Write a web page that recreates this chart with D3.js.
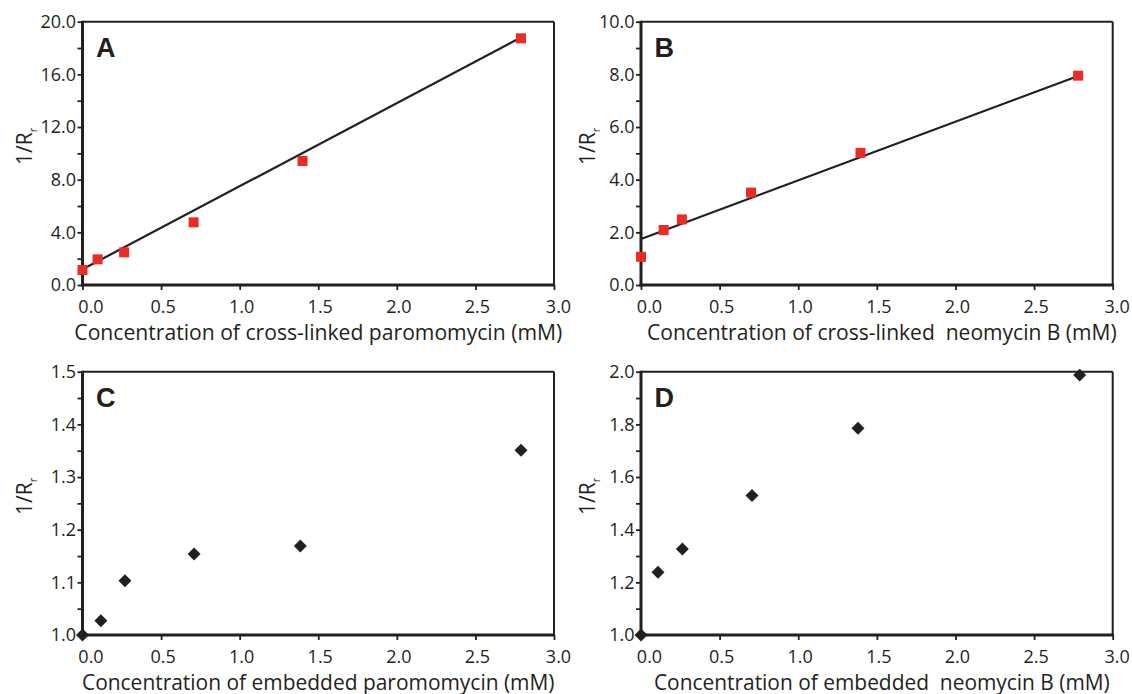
<!DOCTYPE html>
<html>
<head>
<meta charset="utf-8">
<script src="https://cdn.jsdelivr.net/npm/d3@7"></script>
<style>
  html, body { margin: 0; padding: 0; background: #fff; }
  svg { display: block; }
</style>
</head>
<body>
<svg id="chart" width="1132" height="694"></svg>
<script>
// ---------- data ----------
const xTicks = [0, 0.5, 1.0, 1.5, 2.0, 2.5, 3.0];

const xA = [0, 0.096, 0.265, 0.707, 1.40, 2.79];
const yA = [1.14, 1.95, 2.48, 4.76, 9.42, 18.74];
const fitAx = [0, 2.78];
const fitAy = [1.19, 18.74];
const yTicksA = [0, 4, 8, 12, 16, 20];
const yMinorA = [2, 6, 10, 14, 18];

const xB = [0, 0.144, 0.26, 0.70, 1.396, 2.78];
const yB = [1.07, 2.09, 2.49, 3.51, 5.02, 7.95];
const fitBx = [0, 2.78];
const fitBy = [1.75, 7.94];
const yTicksB = [0, 2, 4, 6, 8, 10];
const yMinorB = [1, 3, 5, 7, 9];

const xC = [0, 0.117, 0.27, 0.71, 1.386, 2.79];
const yC = [1.0, 1.027, 1.103, 1.154, 1.169, 1.351];
const yTicksC = [1.0, 1.1, 1.2, 1.3, 1.4, 1.5];
const yMinorC = [1.05, 1.15, 1.25, 1.35, 1.45];

const xD = [0, 0.108, 0.263, 0.706, 1.38, 2.79];
const yD = [1.0, 1.238, 1.327, 1.53, 1.785, 1.987];
const yTicksD = [1.0, 1.2, 1.4, 1.6, 1.8, 2.0];
const yMinorD = [1.1, 1.3, 1.5, 1.7, 1.9];

const titles = [
  "Concentration of cross-linked paromomycin (mM)",
  "Concentration of cross-linked  neomycin B (mM)",
  "Concentration of embedded paromomycin (mM)",
  "Concentration of embedded  neomycin B (mM)"
];
const letters = ["A", "B", "C", "D"];

// ---------- layout ----------
const INK = "#231f20";
const RED = "#ec2a26";
const SANS = '"Open Sans", "Noto Sans", sans-serif';
const panels = [
  {letter: letters[0], title: titles[0], xs: xA, ys: yA, fx: fitAx, fy: fitAy, yt: yTicksA, ym: yMinorA, marker: "square",
   left: 82.5, right: 554, top: 21.7, bottom: 285, ylabX: 32, titleW: 488},
  {letter: letters[1], title: titles[1], xs: xB, ys: yB, fx: fitBx, fy: fitBy, yt: yTicksB, ym: yMinorB, marker: "square",
   left: 641, right: 1112.7, top: 21.7, bottom: 285, ylabX: 595, titleW: 470},
  {letter: letters[2], title: titles[2], xs: xC, ys: yC, fx: null, fy: null, yt: yTicksC, ym: yMinorC, marker: "diamond",
   left: 82.5, right: 554, top: 371.7, bottom: 635, ylabX: 32, titleW: 473},
  {letter: letters[3], title: titles[3], xs: xD, ys: yD, fx: null, fy: null, yt: yTicksD, ym: yMinorD, marker: "diamond",
   left: 641, right: 1112.7, top: 371.7, bottom: 635, ylabX: 595, titleW: 456}
];

const svg = d3.select("#chart");
const fmt = d3.format(".1f");

panels.forEach(p => {
  const x = d3.scaleLinear().domain([0, 3]).range([p.left, p.right]);
  const y = d3.scaleLinear().domain([p.yt[0], p.yt[p.yt.length - 1]]).range([p.bottom, p.top]);
  const g = svg.append("g");

  // frame: top and right thinner
  g.append("line").attr("x1", p.left).attr("x2", p.right).attr("y1", p.top).attr("y2", p.top)
    .attr("stroke", INK).attr("stroke-width", 2);
  g.append("line").attr("x1", p.right).attr("x2", p.right).attr("y1", p.top).attr("y2", p.bottom)
    .attr("stroke", INK).attr("stroke-width", 2);

  // y axis
  const ya = g.append("g").attr("transform", `translate(${p.left},0)`)
    .call(d3.axisLeft(y).tickValues(p.yt).tickSize(5).tickPadding(1.5).tickFormat(fmt));
  const ym = g.append("g").attr("transform", `translate(${p.left},0)`)
    .call(d3.axisLeft(y).tickValues(p.ym).tickSize(5).tickFormat(""));
  // x axis
  const xa = g.append("g").attr("transform", `translate(0,${p.bottom})`)
    .call(d3.axisBottom(x).tickValues(xTicks).tickSize(5).tickPadding(10).tickFormat(fmt));

  [ya, ym, xa].forEach(a => {
    a.select(".domain").remove();
    a.selectAll(".tick line").attr("stroke", INK).attr("stroke-width", 1.8);
    a.selectAll(".tick text").attr("fill", INK)
      .style("font-family", SANS).style("font-size", "18px");
  });
  xa.selectAll(".tick text").attr("dx", (d) => d === 0 ? 8 : (d === 3 ? 4 : 1.5));

  // thick left and bottom axis lines
  g.append("line").attr("x1", p.left).attr("x2", p.left).attr("y1", p.top - 1).attr("y2", p.bottom + 1.5)
    .attr("stroke", INK).attr("stroke-width", 3);
  g.append("line").attr("x1", p.left - 1.5).attr("x2", p.right + 1).attr("y1", p.bottom).attr("y2", p.bottom)
    .attr("stroke", INK).attr("stroke-width", 3);

  // fit line
  if (p.fx) {
    const line = d3.line().x(d => x(d[0])).y(d => y(d[1]));
    g.append("path").datum(p.fx.map((v, i) => [v, p.fy[i]]))
      .attr("d", line).attr("fill", "none").attr("stroke", INK).attr("stroke-width", 2.2);
  }

  // markers
  const pts = p.xs.map((v, i) => [v, p.ys[i]]);
  if (p.marker === "square") {
    g.selectAll("rect.pt").data(pts).join("rect").attr("class", "pt")
      .attr("x", d => x(d[0]) - 5).attr("y", d => y(d[1]) - 5)
      .attr("width", 10).attr("height", 10).attr("fill", RED);
  } else {
    const sym = d3.symbol().type(d3.symbolSquare).size(84);
    g.selectAll("path.pt").data(pts).join("path").attr("class", "pt")
      .attr("d", sym)
      .attr("transform", d => `translate(${x(d[0])},${y(d[1])}) rotate(45)`)
      .attr("fill", INK);
  }

  // panel letter
  g.append("text").attr("x", p.left + 13.5).attr("y", p.top + 35)
    .style("font-family", '"Liberation Sans", Arial, sans-serif').style("font-weight", "bold")
    .style("font-size", "27px").attr("fill", INK).text(p.letter);

  // x title, fitted to measured width
  const t = g.append("text").attr("x", (p.left + p.right) / 2 + (p.left > 600 ? 5 : 0))
    .attr("y", p.bottom + 54.5).attr("text-anchor", "middle").attr("fill", INK)
    .style("font-family", SANS).style("font-size", "20px").style("white-space", "pre").text(p.title);
  const w = t.node().getComputedTextLength();
  t.style("font-size", (20 * p.titleW / w) + "px");

  // y title 1/R_r
  const cy = (p.top + p.bottom) / 2 - 7;
  const yt = g.append("text").attr("transform", `translate(${p.ylabX},${cy}) rotate(-90)`)
    .attr("text-anchor", "middle").attr("fill", INK)
    .style("font-family", SANS).style("font-size", "21px");
  yt.append("tspan").text("1/R");
  yt.append("tspan").style("font-size", "11px").attr("dy", 5).text("r");
});
</script>
</body>
</html>
